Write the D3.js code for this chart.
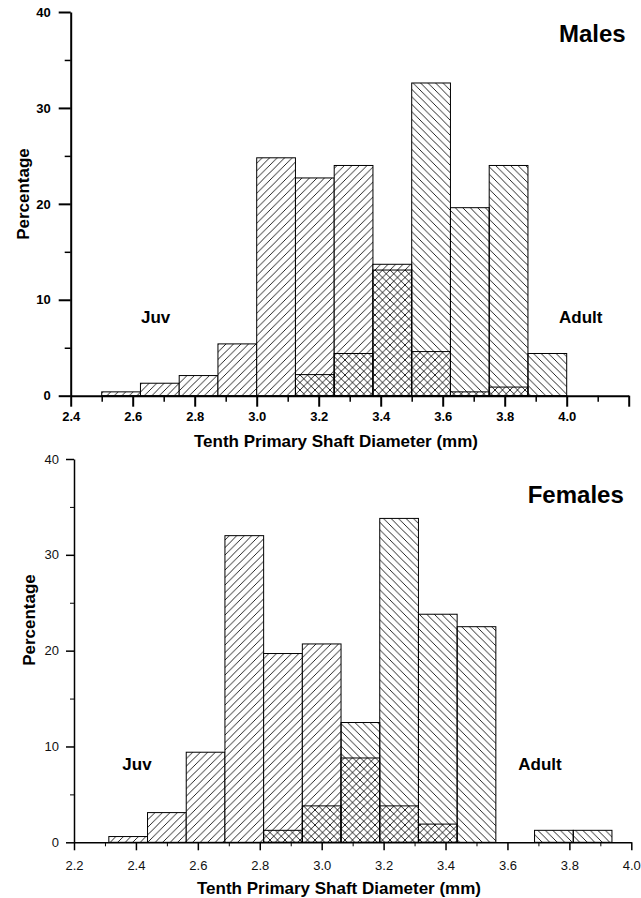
<!DOCTYPE html>
<html>
<head>
<meta charset="utf-8">
<script src="https://cdn.jsdelivr.net/npm/d3@7"></script>
<style>
  html, body { margin: 0; padding: 0; background: #fff; }
  svg { display: block; font-family: "Liberation Sans", Arial, Helvetica, sans-serif; }
</style>
</head>
<body>
<svg id="chart" width="641" height="898"></svg>
<script>
// ---------------- DATA ----------------
const binWidth = 0.125;

// Males
const maleBinStarts = [2.5, 2.625, 2.75, 2.875, 3.0, 3.125, 3.25, 3.375, 3.5, 3.625, 3.75, 3.875];
const maleJuv      = [0.4, 1.3, 2.1, 5.4, 24.8, 22.7, 24.0, 13.7, 4.6, 0.4, 0.9, 0];
const maleAdult    = [0, 0, 0, 0, 0, 2.2, 4.4, 13.1, 32.6, 19.6, 24.0, 4.4];
const maleXTicks   = [2.4, 2.6, 2.8, 3.0, 3.2, 3.4, 3.6, 3.8, 4.0, 4.2];
const maleXLabels  = ["2.4", "2.6", "2.8", "3.0", "3.2", "3.4", "3.6", "3.8", "4.0", ""];
const maleXMinor   = [2.5, 2.7, 2.9, 3.1, 3.3, 3.5, 3.7, 3.9, 4.1];

// Females
const femaleBinStarts = [2.3125, 2.4375, 2.5625, 2.6875, 2.8125, 2.9375, 3.0625, 3.1875, 3.3125, 3.4375, 3.5625, 3.6875, 3.8125];
const femaleJuv       = [0.6, 3.1, 9.4, 32.0, 19.7, 20.7, 8.8, 3.8, 1.9, 0, 0, 0, 0];
const femaleAdult     = [0, 0, 0, 0, 1.25, 3.8, 12.5, 33.8, 23.8, 22.5, 0, 1.25, 1.25];
const femaleXTicks    = [2.2, 2.4, 2.6, 2.8, 3.0, 3.2, 3.4, 3.6, 3.8, 4.0];
const femaleXLabels   = ["2.2", "2.4", "2.6", "2.8", "3.0", "3.2", "3.4", "3.6", "3.8", "4.0"];
const femaleXMinor    = [2.3, 2.5, 2.7, 2.9, 3.1, 3.3, 3.5, 3.7, 3.9];

const yTicks = [0, 10, 20, 30, 40];
const yMinor = [5, 15, 25, 35];

const xTitle = "Tenth Primary Shaft Diameter (mm)";
const yTitle = "Percentage";

// ---------------- DRAW ----------------
const svg = d3.select("#chart");
const defs = svg.append("defs");
const P = 7.5;

// forward hatch "/" with white background (juveniles)
const pf = defs.append("pattern").attr("id", "hatchF")
  .attr("patternUnits", "userSpaceOnUse").attr("width", P).attr("height", P);
pf.append("rect").attr("width", P).attr("height", P).attr("fill", "#fff");
pf.append("path").attr("d", `M0,${P} L${P},0 M${-P/2},${P/2} L${P/2},${-P/2} M${P/2},${P*1.5} L${P*1.5},${P/2}`)
  .attr("stroke", "#000").attr("stroke-width", 0.85);

// back hatch "\" transparent background (adults)
const pb = defs.append("pattern").attr("id", "hatchB")
  .attr("patternUnits", "userSpaceOnUse").attr("width", P).attr("height", P);
pb.append("path").attr("d", `M0,0 L${P},${P} M${-P/2},${P/2} L${P/2},${P*1.5} M${P/2},${-P/2} L${P*1.5},${P/2}`)
  .attr("stroke", "#000").attr("stroke-width", 0.85);

function panel(cfg) {
  const x = d3.scaleLinear().domain(cfg.xDomain).range(cfg.xRange);
  const y = d3.scaleLinear().domain([0, 40]).range(cfg.yRange);
  const g = svg.append("g");

  const bins = cfg.starts.map((s, i) => ({ s, juv: cfg.juv[i], adult: cfg.adult[i] }));

  // juvenile bars
  g.selectAll("rect.juv").data(bins.filter(d => d.juv > 0)).join("rect")
    .attr("class", "juv")
    .attr("x", d => x(d.s)).attr("width", d => x(d.s + binWidth) - x(d.s))
    .attr("y", d => y(d.juv)).attr("height", d => y(0) - y(d.juv))
    .attr("fill", "url(#hatchF)").attr("stroke", "#000").attr("stroke-width", 1);

  // adult bars
  g.selectAll("rect.adult").data(bins.filter(d => d.adult > 0)).join("rect")
    .attr("class", "adult")
    .attr("x", d => x(d.s)).attr("width", d => x(d.s + binWidth) - x(d.s))
    .attr("y", d => y(d.adult)).attr("height", d => y(0) - y(d.adult))
    .attr("fill", "url(#hatchB)").attr("stroke", "#000").attr("stroke-width", 1);

  const fw = cfg.tickWeight;
  // y axis
  const yMin = g.append("g").attr("transform", `translate(${x(cfg.xDomain[0])},0)`)
    .call(d3.axisLeft(y).tickValues(yMinor).tickSize(cfg.yMinorLen).tickSizeOuter(0).tickFormat(""));
  yMin.select(".domain").remove();
  yMin.selectAll("line").attr("stroke-width", cfg.minorW);
  const yAx = g.append("g").attr("transform", `translate(${x(cfg.xDomain[0])},0)`)
    .call(d3.axisLeft(y).tickValues(yTicks).tickSize(cfg.yMajorLen).tickSizeOuter(0).tickPadding(cfg.yPad).tickFormat(d3.format("d")));
  yAx.select(".domain").attr("stroke-width", cfg.axisW);
  yAx.selectAll("line").attr("stroke-width", cfg.majorW);
  yAx.selectAll("text").attr("font-size", 13).attr("font-weight", fw).attr("fill", cfg.tickColor)
    .attr("font-family", "'Liberation Sans', Arial, sans-serif");

  // x axis
  const xMin = g.append("g").attr("transform", `translate(0,${y(0)})`)
    .call(d3.axisBottom(x).tickValues(cfg.xMinor).tickSize(cfg.xMinorLen).tickSizeOuter(0).tickFormat(""));
  xMin.select(".domain").remove();
  xMin.selectAll("line").attr("stroke-width", cfg.minorW);
  const xAx = g.append("g").attr("transform", `translate(0,${y(0)})`)
    .call(d3.axisBottom(x).tickValues(cfg.xTicks).tickSize(cfg.xMajorLen).tickSizeOuter(0).tickPadding(cfg.xPad)
      .tickFormat((d, i) => cfg.xLabels[i]));
  xAx.select(".domain").attr("stroke-width", cfg.axisW);
  xAx.selectAll("line").attr("stroke-width", cfg.majorW);
  xAx.selectAll("text").attr("font-size", 13).attr("font-weight", fw).attr("fill", cfg.tickColor)
    .attr("font-family", "'Liberation Sans', Arial, sans-serif");

  // titles
  g.append("text").attr("x", cfg.xTitleX).attr("y", cfg.xTitleY).attr("text-anchor", "middle")
    .attr("font-size", 17).attr("font-weight", "bold").text(xTitle);
  g.append("text").attr("transform", `translate(${cfg.yTitleX},${cfg.yTitleY}) rotate(-90)`)
    .attr("text-anchor", "middle").attr("font-size", 17).attr("font-weight", "bold").text(yTitle);
  g.append("text").attr("x", cfg.nameX).attr("y", cfg.nameY).attr("font-size", 24).attr("font-weight", "bold").text(cfg.name);
  g.append("text").attr("x", cfg.juvX).attr("y", cfg.labY).attr("font-size", 17).attr("font-weight", "bold").text("Juv");
  g.append("text").attr("x", cfg.adultX).attr("y", cfg.labY).attr("font-size", 17).attr("font-weight", "bold").text("Adult");
}

panel({
  xDomain: [2.4, 4.2], xRange: [70.7, 628.7], yRange: [395.7, 12],
  starts: maleBinStarts, juv: maleJuv, adult: maleAdult,
  xTicks: maleXTicks, xLabels: maleXLabels, xMinor: maleXMinor,
  yMajorLen: 12, yMinorLen: 6, xMajorLen: 11, xMinorLen: 6, yPad: 8, xPad: 5,
  axisW: 2, majorW: 2, minorW: 1.5, tickWeight: "bold", tickColor: "#000",
  xTitleX: 336, xTitleY: 447, yTitleX: 29, yTitleY: 194,
  name: "Males", nameX: 559, nameY: 42, juvX: 141, adultX: 559, labY: 322.5
});

panel({
  xDomain: [2.2, 4.0], xRange: [74, 631.3], yRange: [842.3, 459],
  starts: femaleBinStarts, juv: femaleJuv, adult: femaleAdult,
  xTicks: femaleXTicks, xLabels: femaleXLabels, xMinor: femaleXMinor,
  yMajorLen: 8, yMinorLen: 4, xMajorLen: 8, xMinorLen: 4, yPad: 7, xPad: 10,
  axisW: 1.5, majorW: 1.5, minorW: 1, tickWeight: "normal", tickColor: "#111",
  xTitleX: 339, xTitleY: 894, yTitleX: 35, yTitleY: 620,
  name: "Females", nameX: 527.7, nameY: 502.7, juvX: 122.3, adultX: 518.3, labY: 769.5
});
</script>
</body>
</html>
